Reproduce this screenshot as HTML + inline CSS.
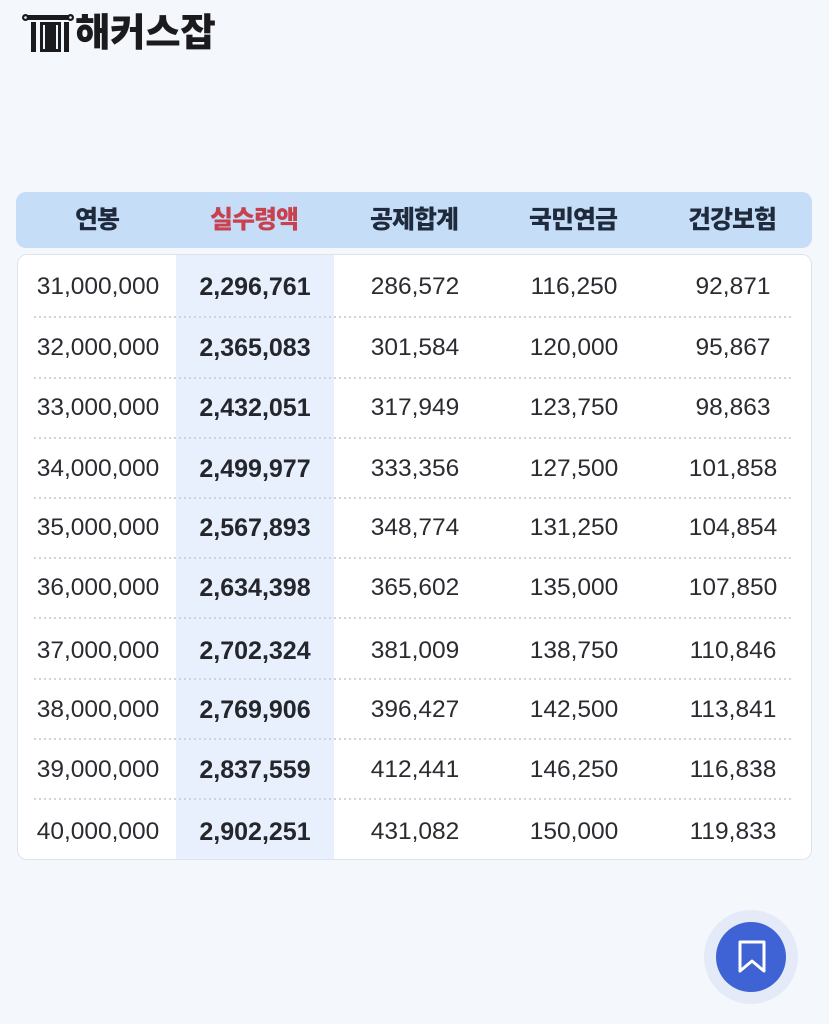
<!DOCTYPE html>
<html>
<head>
<meta charset="utf-8">
<style>
  html,body{margin:0;padding:0;}
  body{width:829px;height:1024px;background:#f4f7fc;position:relative;overflow:hidden;
    font-family:"Liberation Sans","Noto Sans CJK KR",sans-serif;}
  .logo{position:absolute;left:22px;top:13px;}
  .logotext{position:absolute;left:75px;top:10px;font-family:"Liberation Sans","Noto Sans CJK KR",sans-serif;
    font-weight:900;font-size:38.5px;line-height:48px;color:#1b1b1d;letter-spacing:-0.3px;}
  .hdr{position:absolute;left:16px;top:192px;width:796px;height:56px;background:#c6ddf8;border-radius:10px;}
  .hdr div{position:absolute;top:0;height:56px;line-height:56px;width:160px;margin-left:-80px;text-align:center;
    font-family:"Liberation Sans","Noto Sans CJK KR",sans-serif;font-weight:900;font-size:25px;color:#1f2b3d;letter-spacing:-1px;}
  .card{position:absolute;left:17px;top:254px;width:793px;height:604px;background:#fff;border:1px solid #dde3ec;border-radius:10px;overflow:hidden;}
  .hl{position:absolute;left:158px;top:0;width:158px;height:604px;background:#e7f0fc;}
  .sep{position:absolute;left:16px;width:758px;height:2px;
    background:repeating-linear-gradient(to right,#cfd3da 0 2px,transparent 2px 5px);}
  .c{position:absolute;width:180px;margin-left:-90px;text-align:center;height:30px;line-height:30px;
    font-size:24.5px;color:#2a2c32;}
  .b{font-weight:700;font-size:25px;color:#24262c;}
  .btnout{position:absolute;left:704px;top:910px;width:94px;height:94px;border-radius:50%;background:#e4eaf7;}
  .btnin{position:absolute;left:716px;top:922px;width:70px;height:70px;border-radius:50%;background:#3f63d5;}
</style>
</head>
<body>
<svg class="logo" width="54" height="42" viewBox="0 0 54 42">
  <rect x="3" y="2" width="46" height="5" fill="#1b1b1d"/>
  <circle cx="3.5" cy="4.5" r="3.5" fill="#1b1b1d"/>
  <circle cx="48.5" cy="4.5" r="3.5" fill="#1b1b1d"/>
  <circle cx="3.5" cy="4.5" r="1.3" fill="#f4f7fc"/>
  <circle cx="48.5" cy="4.5" r="1.3" fill="#f4f7fc"/>
  <rect x="9" y="9" width="5" height="30" fill="#1b1b1d"/>
  <rect x="18" y="9" width="21" height="30" fill="#1b1b1d"/>
  <rect x="21" y="12" width="2" height="24" fill="#f4f7fc"/>
  <rect x="34" y="12" width="2" height="24" fill="#f4f7fc"/>
  <rect x="42" y="9" width="5" height="30" fill="#1b1b1d"/>
</svg>
<div class="logotext">해커스잡</div>

<div class="hdr">
  <div style="left:81px">연봉</div>
  <div style="left:238px;color:#c8414f">실수령액</div>
  <div style="left:398px">공제합계</div>
  <div style="left:557px">국민연금</div>
  <div style="left:716px">건강보험</div>
</div>

<div class="card">
  <div class="hl"></div>
  <div class="sep" style="top:61px"></div>
  <div class="sep" style="top:122px"></div>
  <div class="sep" style="top:182px"></div>
  <div class="sep" style="top:242px"></div>
  <div class="sep" style="top:302px"></div>
  <div class="sep" style="top:362px"></div>
  <div class="sep" style="top:423px"></div>
  <div class="sep" style="top:483px"></div>
  <div class="sep" style="top:543px"></div>

  <div class="c" style="left:80px;top:17px">31,000,000</div>
  <div class="c b" style="left:237px;top:17px">2,296,761</div>
  <div class="c" style="left:397px;top:17px">286,572</div>
  <div class="c" style="left:556px;top:17px">116,250</div>
  <div class="c" style="left:715px;top:17px">92,871</div>

  <div class="c" style="left:80px;top:78px">32,000,000</div>
  <div class="c b" style="left:237px;top:78px">2,365,083</div>
  <div class="c" style="left:397px;top:78px">301,584</div>
  <div class="c" style="left:556px;top:78px">120,000</div>
  <div class="c" style="left:715px;top:78px">95,867</div>

  <div class="c" style="left:80px;top:138px">33,000,000</div>
  <div class="c b" style="left:237px;top:138px">2,432,051</div>
  <div class="c" style="left:397px;top:138px">317,949</div>
  <div class="c" style="left:556px;top:138px">123,750</div>
  <div class="c" style="left:715px;top:138px">98,863</div>

  <div class="c" style="left:80px;top:199px">34,000,000</div>
  <div class="c b" style="left:237px;top:199px">2,499,977</div>
  <div class="c" style="left:397px;top:199px">333,356</div>
  <div class="c" style="left:556px;top:199px">127,500</div>
  <div class="c" style="left:715px;top:199px">101,858</div>

  <div class="c" style="left:80px;top:258px">35,000,000</div>
  <div class="c b" style="left:237px;top:258px">2,567,893</div>
  <div class="c" style="left:397px;top:258px">348,774</div>
  <div class="c" style="left:556px;top:258px">131,250</div>
  <div class="c" style="left:715px;top:258px">104,854</div>

  <div class="c" style="left:80px;top:318px">36,000,000</div>
  <div class="c b" style="left:237px;top:318px">2,634,398</div>
  <div class="c" style="left:397px;top:318px">365,602</div>
  <div class="c" style="left:556px;top:318px">135,000</div>
  <div class="c" style="left:715px;top:318px">107,850</div>

  <div class="c" style="left:80px;top:381px">37,000,000</div>
  <div class="c b" style="left:237px;top:381px">2,702,324</div>
  <div class="c" style="left:397px;top:381px">381,009</div>
  <div class="c" style="left:556px;top:381px">138,750</div>
  <div class="c" style="left:715px;top:381px">110,846</div>

  <div class="c" style="left:80px;top:440px">38,000,000</div>
  <div class="c b" style="left:237px;top:440px">2,769,906</div>
  <div class="c" style="left:397px;top:440px">396,427</div>
  <div class="c" style="left:556px;top:440px">142,500</div>
  <div class="c" style="left:715px;top:440px">113,841</div>

  <div class="c" style="left:80px;top:500px">39,000,000</div>
  <div class="c b" style="left:237px;top:500px">2,837,559</div>
  <div class="c" style="left:397px;top:500px">412,441</div>
  <div class="c" style="left:556px;top:500px">146,250</div>
  <div class="c" style="left:715px;top:500px">116,838</div>

  <div class="c" style="left:80px;top:562px">40,000,000</div>
  <div class="c b" style="left:237px;top:562px">2,902,251</div>
  <div class="c" style="left:397px;top:562px">431,082</div>
  <div class="c" style="left:556px;top:562px">150,000</div>
  <div class="c" style="left:715px;top:562px">119,833</div>
</div>

<div class="btnout"></div>
<div class="btnin"></div>
<svg style="position:absolute;left:736px;top:940px" width="32" height="34" viewBox="0 0 32 34">
  <path d="M4 2 H28 V31 L16 21 L4 31 Z" fill="none" stroke="#fff" stroke-width="3" stroke-linejoin="round"/>
</svg>
</body>
</html>
